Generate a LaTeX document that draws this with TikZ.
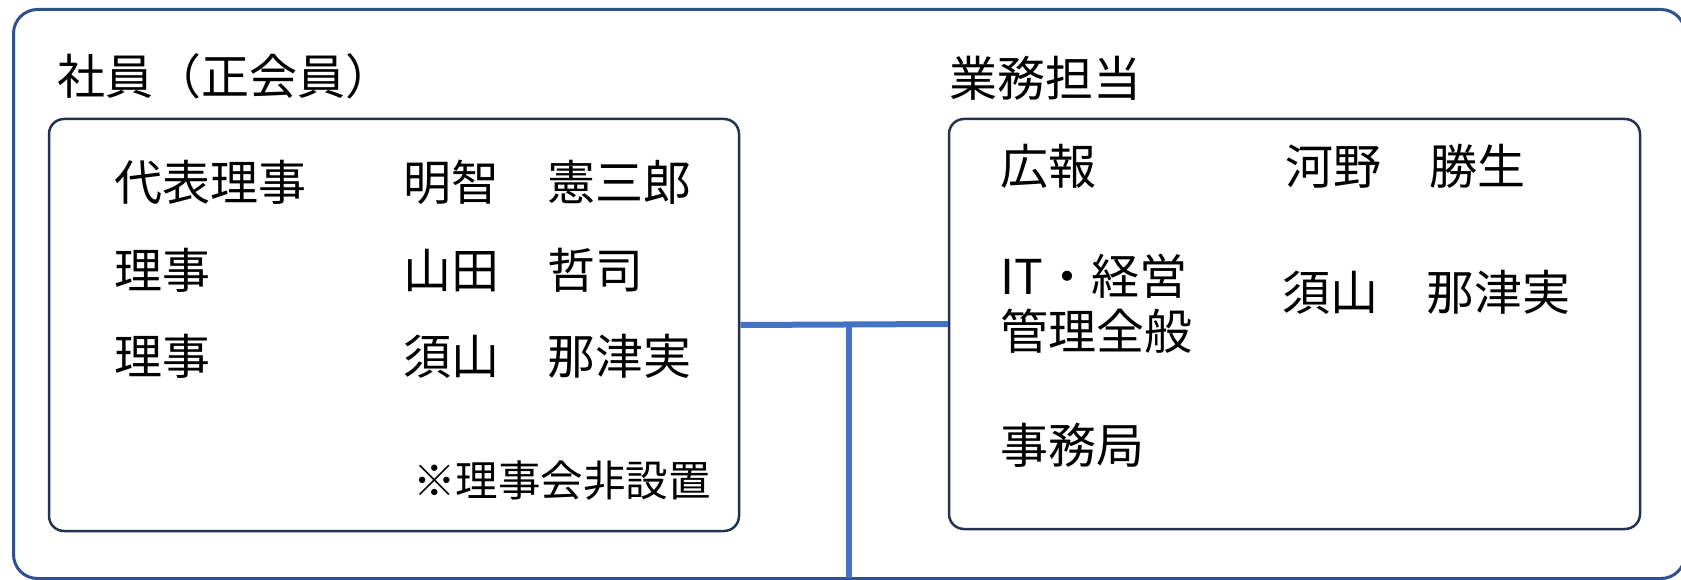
\documentclass[tikz,border=0pt]{standalone}
\usepackage{fontspec}
\setmainfont{Noto Sans CJK JP}
\definecolor{outerline}{RGB}{47,82,143}
\definecolor{innerline}{RGB}{35,50,85}
\definecolor{linkblue}{RGB}{68,114,196}
\begin{document}
\begin{tikzpicture}[x=1pt,y=-1pt,
  outerbox/.style={draw=outerline,line width=3pt,rounded corners=24pt},
  innerbox/.style={draw=innerline,line width=2.5pt,rounded corners=15pt,inner sep=0pt},
  txt/.style={anchor=base west,inner sep=0pt,font=\fontsize{48}{55}\selectfont,text=black},
  notetxt/.style={anchor=base west,inner sep=0pt,font=\fontsize{42.5}{50}\selectfont,text=black},
  link/.style={draw=linkblue,line width=6pt}]
\useasboundingbox (0,0) rectangle (1681,580);
\draw[outerbox] (13.5,9.5) rectangle (1685,578.5);
% boxes
\node[innerbox,minimum width=690pt,minimum height=412pt] (members) at (394,325) {};
\node[innerbox,minimum width=691pt,minimum height=410pt] (duties) at (1294.5,324) {};
% titles
\node[txt] (t1) at (57,95) {社員（正会員）};
\node[txt] (t2) at (949,97) {業務担当};
% left content
\node[txt] (r1a) at (114,201) {代表理事};
\node[txt] (r1b) at (403,201) {明智　憲三郎};
\node[txt] (r2a) at (114,288) {理事};
\node[txt] (r2b) at (403,288) {山田　哲司};
\node[txt] (r3a) at (114,374) {理事};
\node[txt] (r3b) at (403,374) {須山　那津実};
\node[notetxt] (note) at (413,496) {※理事会非設置};
% right content
\node[txt] (p1a) at (1000,185) {広報};
\node[txt] (p1b) at (1285,185) {河野　勝生};
\node[txt,align=left] (p2a) at (1000,349) {IT・経営\\管理全般};
\node[txt] (p2b) at (1282,310) {須山　那津実};
\node[txt] (p3a) at (1000,463) {事務局};
% connectors
\coordinate (j) at (849,324);
\coordinate (jb) at (849,578);
\draw[link] (members.east) -- (duties.west);
\draw[link] (j) -- (jb);
\end{tikzpicture}
\end{document}
